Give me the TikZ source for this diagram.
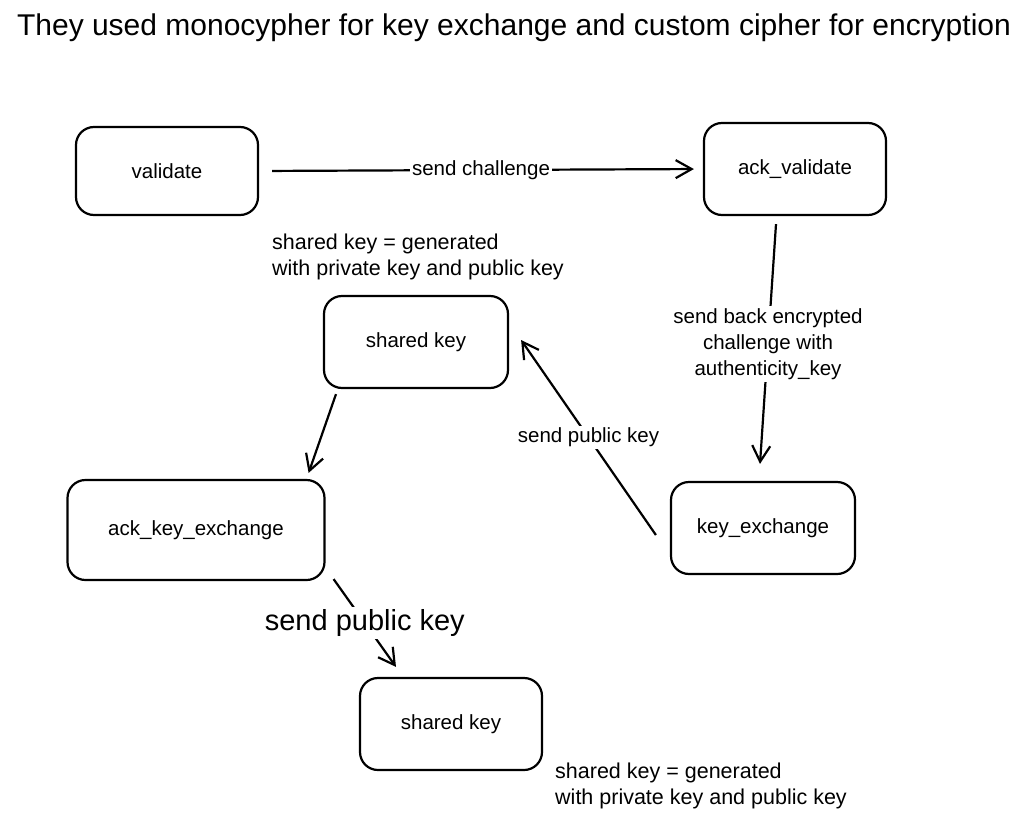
\documentclass[tikz,border=0pt]{standalone}
\usepackage{fontspec}
\setmainfont{Liberation Sans}
\usetikzlibrary{arrows.meta,calc}

\tikzset{
  box/.style={draw, line width=2.2pt, rounded corners=18pt,
    minimum width=182pt, minimum height=92pt,
    font=\fontsize{20.5}{26}\selectfont},
  flow/.style={-{Straight Barb[length=16pt,width=18pt]}, line width=2.2pt},
  lab/.style={fill=white, inner sep=2pt, font=\fontsize{20.5}{26}\selectfont},
  note/.style={align=left, inner sep=0pt, anchor=north west,
    font=\fontsize{21.5}{26}\selectfont}
}

\begin{document}
\begin{tikzpicture}[x=1pt,y=-1pt]
      \useasboundingbox (0,0) rectangle (1028,819);
      \node[anchor=base, font=\fontsize{30}{36}\selectfont] (title) at (514,35)
        {They used monocypher for key exchange and custom cipher for encryption};
      \draw
        (167,171) node[box, minimum height=88pt] (validate){validate}
        (795,169) node[box] (ackvalidate){ack\_validate}
        (416,342) node[box, minimum width=184pt] (sharedtop){shared key}
        (196,530) node[box, minimum width=257pt, minimum height=100pt] (ackkeyexchange){ack\_key\_exchange}
        (763,528) node[box, minimum width=184pt] (keyexchange){key\_exchange}
        (451,724) node[box] (sharedbottom){shared key};
      \node[note] (notetop) at (272,234)
        {shared key = generated\\with private key and public key};
      \node[note] (notebottom) at (555,763)
        {shared key = generated\\with private key and public key};
      \begin{scope}[flow]
        \draw[shorten <=13pt, shorten >=9pt] (validate.east) -- node[lab]{send challenge} (ackvalidate.west);
        \draw ($(ackvalidate.south)+(-19,8)$) -- node[lab, align=center]
          {send back encrypted\\challenge with\\authenticity\_key} ($(keyexchange.north)+(-3,-17)$);
        \draw ($(keyexchange.west)+(-14,7)$) -- node[lab]{send public key} ($(sharedtop.east)+(12,-2)$);
        \draw ($(sharedtop.south)+(-80,5)$) -- ($(ackkeyexchange.north east)+(-17,-6)$);
        \draw ($(ackkeyexchange.south east)+(8,-2)$) -- node[lab, font=\fontsize{29}{34}\selectfont]
          {send public key} ($(sharedbottom.north)+(-55,-10)$);
      \end{scope}
    \end{tikzpicture}
\end{document}
